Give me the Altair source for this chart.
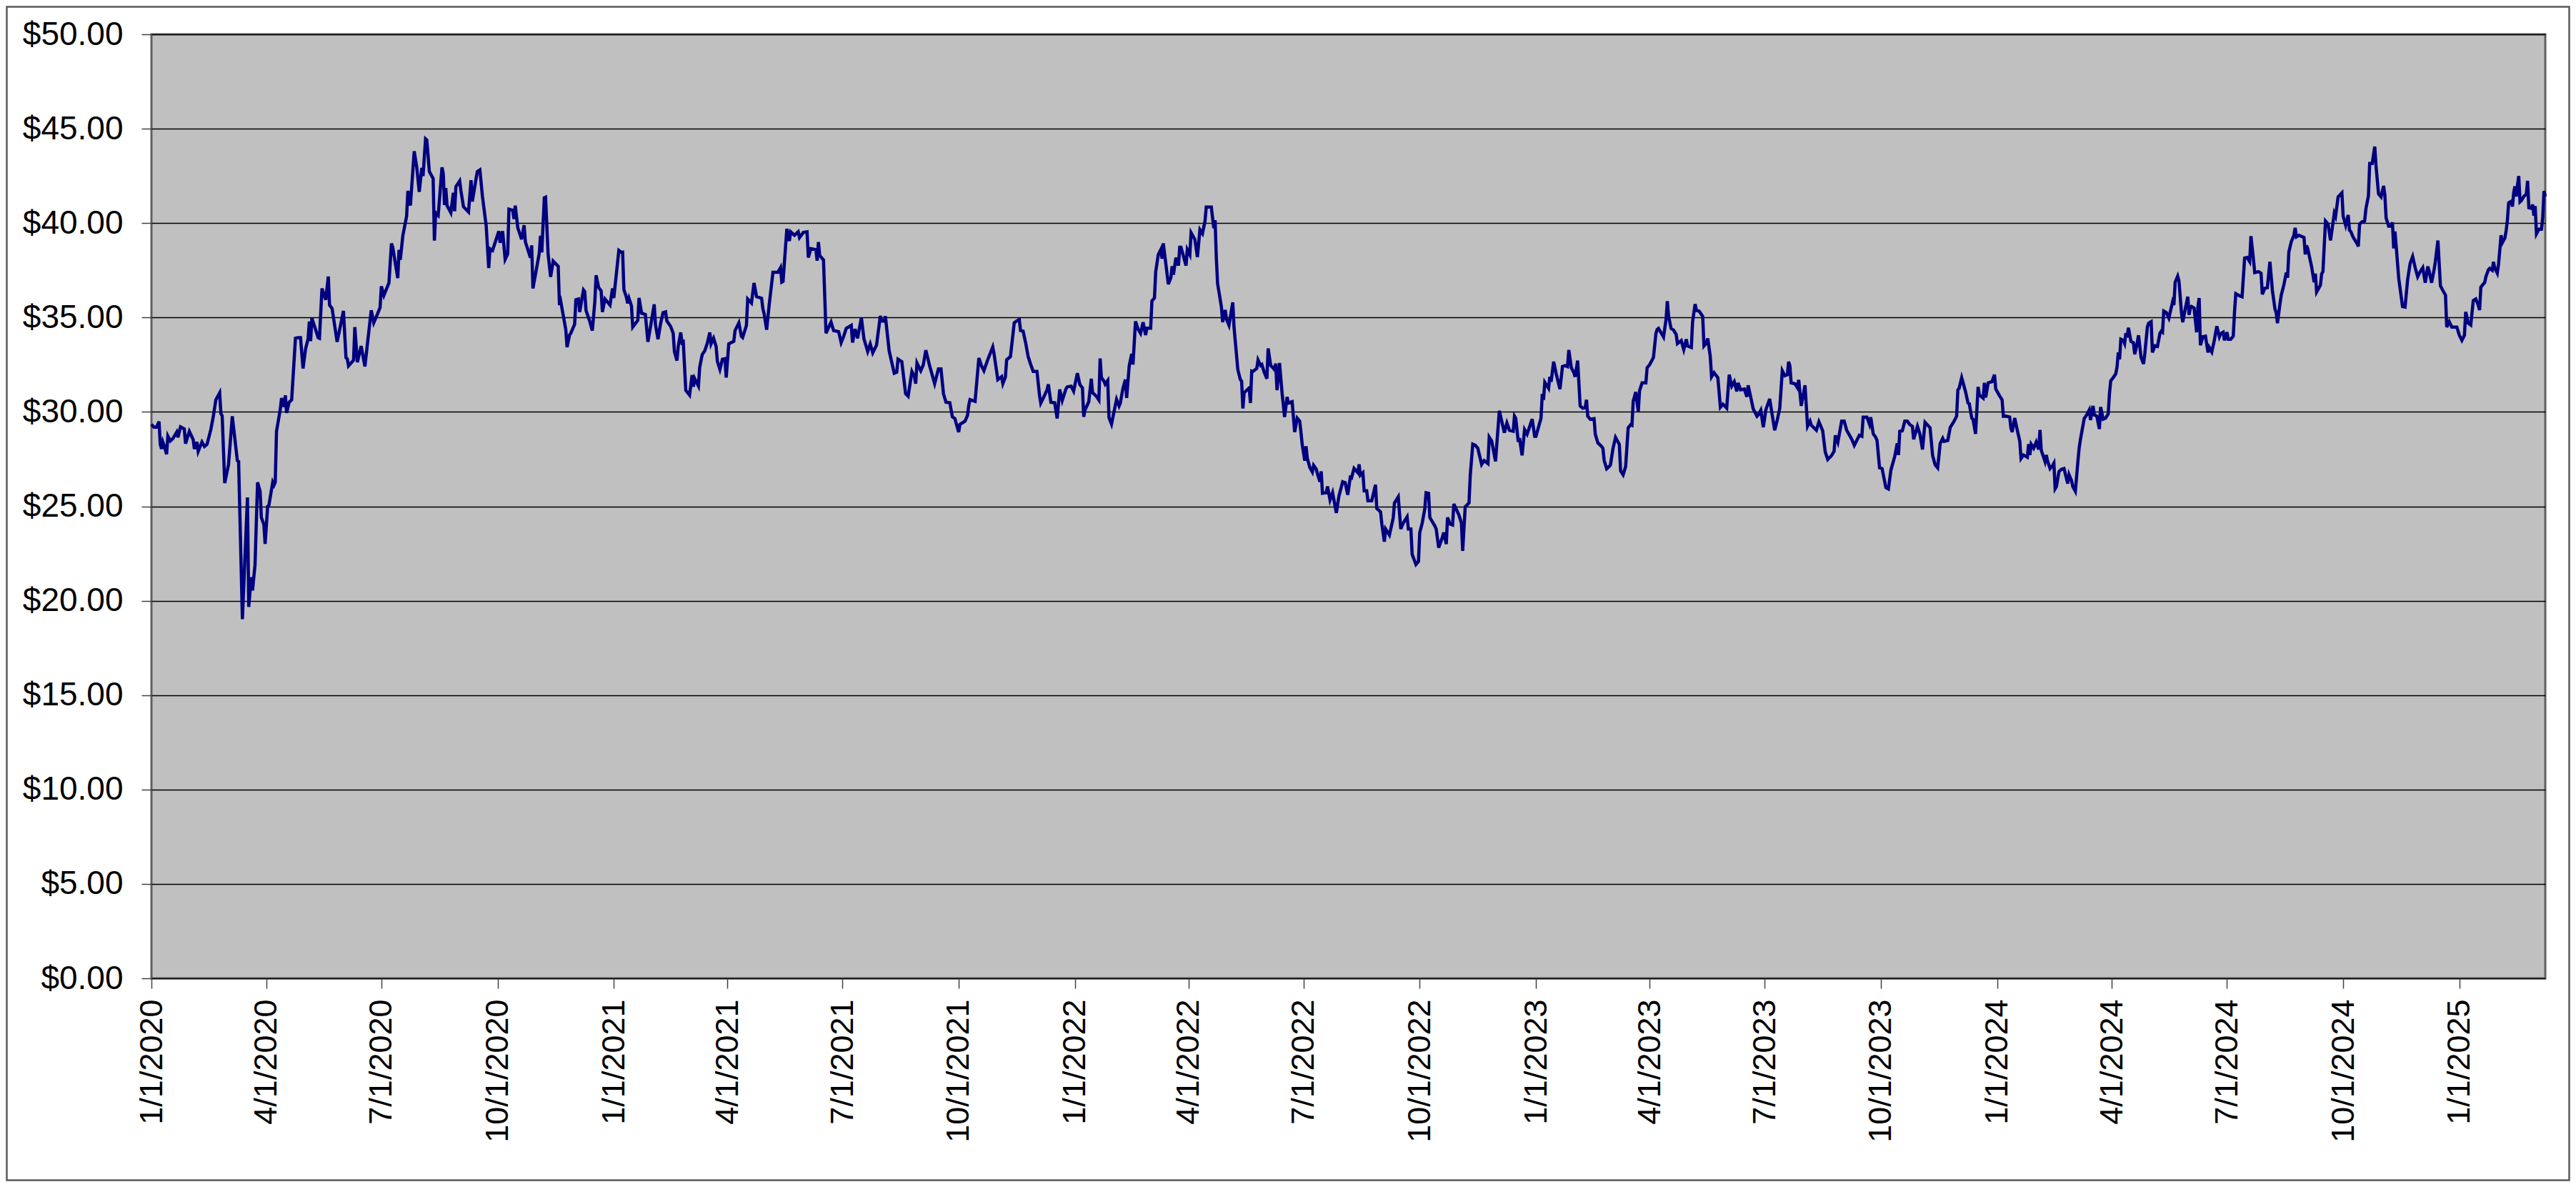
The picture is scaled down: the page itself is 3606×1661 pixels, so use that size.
import altair as alt
import pandas as pd

# (days since 1/1/2020, closing price), one list per year
seg_2020 = [(0,29.34),(2,29.19),(4,29.19),(6,29.49),(7,28.28),(8,28.04),(9,28.41),(10,28.22),(12,27.76),(13,28.72),
 (15,28.46),(17,28.59),(20,28.93),(21,28.65),(23,29.21),(26,29.10),(27,28.32),(30,28.97),(33,28.54),(34,28.04),
 (36,28.41),(37,27.91),(40,28.41),(42,28.17),(44,28.28),(47,29.06),(49,29.77),(51,30.64),(54,31.01),(55,29.90),
 (56,29.80),(58,26.23),(61,27.20),(64,29.77),(68,27.42),(69,27.39),(72,19.02),(76,25.47),(77,19.67),(79,21.25),
 (80,20.54),(82,21.90),(84,26.27),(86,25.80),(87,24.41),(89,24.04),(90,23.01),(92,25.00),(93,25.06),(96,26.27),
 (97,26.12),(98,26.27),(99,28.97),(102,30.14),(103,30.73),(105,30.27),(106,30.88),(107,29.95),(109,30.51),(111,30.64),
 (114,33.90),(116,33.93),(118,33.93),(120,32.30),(122,33.34),(124,33.86),(125,34.79),(126,33.75),(127,34.97),(129,34.55),
 (132,33.93),(133,33.90),(135,36.54),(138,35.94),(140,37.17),(141,35.66),(143,35.48),(147,33.71),(152,35.35),(154,32.87),
 (155,32.82),(156,32.44),(160,32.74),(161,34.49),(163,32.63),(166,33.49),(169,32.41),(171,33.62),(174,35.38),(176,34.73),
 (179,35.20),(181,35.53),(182,36.65),(184,36.17),(188,36.83),(190,38.92),(191,38.73),(195,37.09),(196,38.58),(197,38.06),
 (199,39.33),(202,40.37),(203,41.71),(205,40.93),(208,43.81),(210,42.97),(212,41.65),(214,42.92),(215,42.49),(217,44.46),
 (218,44.40),(220,42.73),(223,42.36),(224,39.07),(225,40.55),(227,40.41),(230,42.95),(231,42.64),(232,40.96),(233,41.86),
 (234,40.93),(237,40.55),(239,41.61),(240,40.63),(241,41.93),(244,42.23),(245,41.71),(247,40.87),(251,40.59),(253,42.27),
 (254,41.15),(257,42.36),(258,42.73),(260,42.82),(262,41.43),(265,39.85),(267,37.62),(268,38.64),(270,38.55),(272,38.96),
 (275,39.57),(276,38.96),(278,39.57),(280,38.08),(282,38.36),(283,40.74),(286,40.68),(287,40.22),(288,40.93),(290,39.75),
 (293,39.14),(295,39.89),(296,39.01),(300,38.17),(301,38.82),(302,36.54),(307,38.40),(308,39.33),(309,38.45),(311,41.34),
 (312,41.37),(314,38.36),(316,37.15),(318,37.99),(322,37.71),(323,35.66),(324,35.85),(328,34.36),(329,33.43),(331,34.08),
 (332,34.17),(335,34.64),(336,35.94),(338,35.98),(339,35.29),(342,36.46),(343,36.37),(344,35.38),(347,34.79),(349,34.31),
 (351,35.85),(352,37.24),(354,36.59),(356,36.41),(357,35.29),(359,35.98),(363,35.66),(365,36.54)]

seg_2021 = [(366,36.03),(370,38.55),(372,38.45),(373,38.46),(374,36.48),(376,36.07),(377,35.75),(378,36.02),(380,35.61),(381,34.49),
 (385,34.85),(386,36.04),(388,35.23),(391,35.16),(393,33.71),(395,34.49),(398,35.70),(399,34.62),(401,33.85),(403,34.66),
 (405,35.26),(407,35.30),(408,34.82),(411,34.53),(413,34.17),(414,33.20),(416,32.72),(417,33.47),(419,34.21),(420,33.67),
 (421,33.71),(423,31.14),(426,30.89),(428,31.95),(429,31.33),(430,31.77),(433,31.37),(434,32.36),(436,33.04),(438,33.23),
 (440,33.63),(442,34.21),(443,33.60),(445,33.90),(447,33.47),(448,32.68),(450,32.25),(452,32.79),(454,32.82),(455,31.82),
 (457,33.60),(461,33.74),(462,34.31),(465,34.72),(467,34.01),(468,33.94),(471,34.58),(472,35.98),(475,35.77),(477,36.83),
 (479,36.11),(483,36.02),(484,35.47),(485,35.20),(487,34.35),(489,35.66),(492,37.40),(496,37.40),(498,37.64),(499,36.88),
 (500,36.92),(503,39.70),(505,39.05),(506,39.54),(509,39.36),(512,39.54),(513,39.23),(516,39.50),(519,39.54),(520,38.18),
 (522,38.65),(526,38.59),(527,38.01),(528,39.00),(529,38.28),(532,38.05),(534,34.17),(538,34.76),(540,34.31),(544,34.25),
 (546,33.67),(548,34.01),(550,34.42),(554,34.58),(555,33.67),(557,34.39),(559,33.90),(562,34.99),(564,33.88),(567,33.20),
 (569,33.60),(571,33.13),(574,33.54),(577,35.09),(578,34.82),(580,34.80),(581,35.07),(584,33.23),(588,32.05),(590,32.11),
 (591,32.79),(594,32.66),(597,30.96),(599,30.83),(602,32.14),(604,31.87),(605,31.50),(606,32.59),(609,32.18),(611,32.49),
 (613,33.27),(616,32.45),(620,31.50),(623,32.28),(625,32.28),(627,30.96),(629,30.51),(632,30.49),(634,29.74),(636,29.65),
 (639,28.93),(640,29.34),(644,29.51),(646,29.81),(647,30.35),(648,30.65),(652,30.56),(655,32.86),(657,32.45),(659,32.18),
 (662,32.76),(666,33.44),(667,33.09),(670,31.71),(673,31.87),(674,31.50),(676,31.84),(677,32.76),(680,32.93),(683,34.72),
 (685,34.82),(687,34.89),(688,34.31),(690,34.28),(692,33.67),(694,32.93),(696,32.52),(698,32.14),(701,32.14),(703,30.89),
 (704,30.46),(706,30.73),(709,31.17),(710,31.46),(712,30.51),(715,30.49),(717,29.65),(719,31.19),(721,30.60),(724,31.23),
 (725,31.33),(728,31.36),(730,31.10)]

seg_2022 = [(733,32.05),(735,31.44),(737,31.27),(738,29.74),(739,30.10),(742,30.54),(744,31.76),(745,31.02),(748,30.83),(750,30.63),
 (751,32.83),(752,31.82),(754,31.63),(755,31.47),(757,31.66),(758,29.70),(760,29.35),(763,30.34),(764,30.66),(766,30.31),
 (767,30.47),(769,31.23),(771,31.71),(772,30.74),(774,32.43),(776,33.07),(777,32.51),(779,34.80),(781,34.39),(783,34.16),
 (785,34.75),(787,34.07),(788,34.43),(791,34.43),(792,35.88),(794,36.04),(795,37.43),(797,38.33),(799,38.60),(800,38.12),
 (801,38.93),(805,36.76),(807,37.11),(808,37.72),(809,37.27),(811,38.17),(813,37.75),(814,38.72),(815,38.72),(819,37.75),
 (820,38.60),(822,38.33),(823,39.49),(825,39.25),(826,39.13),(828,38.20),(830,39.65),(832,39.45),(834,40.10),(835,40.85),
 (839,40.85),(841,39.73),(842,40.16),(843,38.12),(844,36.79),(847,35.56),(848,34.75),(850,35.40),(851,34.92),(853,34.59),
 (856,35.80),(857,34.48),(860,32.24),(862,31.71),(863,31.63),(864,30.18),(865,31.02),(869,31.27),(870,30.47),(871,32.16),
 (872,32.14),(875,32.30),(876,32.75),(878,32.46),(879,32.51),(881,32.08),(883,31.76),(884,33.36),(886,32.46),(887,32.40),
 (889,32.24),(890,32.56),(891,31.15),(893,32.59),(895,31.02),(897,29.73),(899,30.79),(900,30.47),(903,30.54),(905,28.93),
 (907,29.67),(909,29.51),(910,28.90),(911,28.26),(913,27.42),(914,28.18),(915,27.54),(917,27.06),(919,26.82),(920,27.17),
 (922,26.98),(923,26.73),(925,26.30),(926,26.85),(927,25.69),(930,25.72),(931,26.05),(933,25.34),(935,25.72),(938,24.65),
 (940,25.53),(943,26.30),(945,26.25),(947,25.61),(949,26.53),(950,26.50),(952,27.01),(955,26.78),(956,27.22),(957,26.65),
 (959,26.78),(960,25.82),(962,25.82),(963,25.29),(966,25.29),(969,26.14),(970,24.89),(973,24.70),(974,24.06),(976,23.13),
 (977,23.80),(980,23.48),(983,24.38),(984,25.18),(987,25.50),(989,23.80),(991,24.12),(994,24.44),(995,23.80),(997,23.80),
 (998,22.45),(1001,21.92),(1003,22.08),(1004,23.61),(1006,24.12),(1008,24.86),(1009,25.72),(1011,25.69),(1012,24.41),(1016,23.96),
 (1017,23.80),(1019,22.81),(1022,23.37),(1023,23.61),(1025,23.00),(1026,24.41),(1028,24.06),(1030,24.01),(1031,25.13),(1035,24.54),
 (1037,24.12),(1038,22.64),(1040,24.97),(1043,25.18),(1044,26.65),(1046,28.29),(1048,28.23),(1050,28.07),(1053,27.22),(1055,27.42),
 (1058,27.26),(1059,28.66),(1061,28.45),(1064,27.38),(1067,30.06),(1071,28.90),(1073,29.41),(1075,29.03),(1078,28.98),(1079,29.78),
 (1080,29.67),(1082,28.42),(1083,28.61),(1085,27.70),(1087,29.06),(1089,28.82),(1093,29.62),(1095,28.71)]

seg_2023 = [(1096,28.71),(1100,29.67),(1101,30.95),(1102,30.64),(1103,31.57),(1106,31.25),(1107,31.86),(1108,31.60),(1110,32.66),(1112,32.02),
 (1115,31.21),(1117,32.40),(1119,32.45),(1121,32.40),(1122,33.28),(1124,32.34),(1126,32.08),(1127,31.86),(1129,32.72),(1131,30.32),
 (1133,30.20),(1135,30.25),(1136,30.64),(1137,29.77),(1139,29.61),(1142,29.64),(1143,28.81),(1145,28.36),(1148,28.17),(1149,28.07),
 (1150,27.43),(1152,26.99),(1154,27.11),(1155,27.20),(1157,28.07),(1159,28.65),(1162,28.28),(1163,26.88),(1165,26.67),(1167,27.11),
 (1169,29.16),(1171,29.32),(1172,29.29),(1173,30.57),(1175,31.05),(1177,30.00),(1178,31.12),(1180,31.54),(1183,31.54),(1184,32.34),
 (1186,32.50),(1189,32.88),(1191,34.17),(1192,34.37),(1193,34.42),(1197,33.97),(1199,34.90),(1200,35.87),(1201,35.06),(1203,34.42),
 (1205,34.33),(1207,34.10),(1208,33.62),(1211,33.78),(1213,33.30),(1215,33.85),(1216,33.49),(1219,33.41),(1220,34.78),(1222,35.71),
 (1223,35.38),(1225,35.34),(1226,35.26),(1228,35.06),(1229,33.49),(1231,33.65),(1232,33.89),(1234,32.93),(1235,31.86),(1237,32.08),
 (1240,31.81),(1242,30.25),(1244,30.41),(1247,30.20),(1249,31.97),(1251,31.37),(1253,31.60),(1255,31.09),(1256,31.54),(1258,31.17),
 (1261,31.21),(1263,30.80),(1264,31.41),(1268,30.16),(1271,29.77),(1272,29.84),(1274,30.09),(1276,29.19),(1278,30.12),(1281,30.69),
 (1285,29.03),(1287,29.56),(1289,30.20),(1291,32.18),(1293,31.92),(1295,31.97),(1296,32.66),(1297,32.45),(1298,31.54),(1301,31.49),
 (1303,31.28),(1304,31.70),(1306,30.32),(1309,31.41),(1311,29.24),(1313,29.51),(1314,29.29),(1318,29.03),(1320,29.48),(1323,29.00),
 (1325,27.88),(1327,27.48),(1330,27.69),(1332,27.91),(1333,28.76),(1335,28.39),(1338,29.51),(1340,29.51),(1342,29.03),(1346,28.55),
 (1348,28.23),(1352,28.76),(1354,28.71),(1355,29.72),(1358,29.72),(1360,29.35),(1361,29.72),(1363,28.84),(1365,28.65),(1366,28.49),
 (1368,27.04),(1370,27.00),(1373,25.99),(1375,25.92),(1377,26.92),(1380,27.64),(1382,28.33),(1383,27.72),(1384,28.97),(1386,29.00),
 (1388,29.51),(1390,29.51),(1392,29.32),(1394,29.24),(1395,28.55),(1398,29.24),(1400,28.81),(1402,28.01),(1404,29.45),(1408,29.16),
 (1410,27.69),(1412,27.20),(1414,27.04),(1416,28.33),(1418,28.60),(1419,28.44),(1422,28.49),(1424,29.19),(1425,29.29),(1427,29.51),
 (1429,29.77),(1430,31.17),(1431,31.25),(1433,31.81),(1436,31.09),(1438,30.48),(1439,30.44),(1441,29.67),(1442,29.61),(1444,28.84),
 (1446,31.33),(1447,30.89),(1450,30.73),(1451,31.54),(1452,30.77),(1454,31.54),(1457,31.60),(1459,31.97),(1460,31.21)]

seg_2024 = [(1463,30.85),(1465,30.64),(1466,29.77),(1468,29.78),(1471,29.73),(1472,29.14),(1473,28.93),(1475,29.68),(1477,29.04),(1479,28.45),
 (1480,27.53),(1482,27.72),(1485,27.60),(1486,28.29),(1487,27.72),(1488,28.29),(1490,28.08),(1492,28.40),(1494,28.01),(1495,29.04),
 (1496,27.97),(1499,27.37),(1500,27.72),(1501,27.40),(1503,27.00),(1505,27.16),(1506,27.28),(1507,25.93),(1508,26.04),(1510,26.84),
 (1512,26.96),(1514,27.00),(1515,26.73),(1517,26.20),(1518,26.68),(1520,26.36),(1521,26.04),(1523,25.80),(1525,27.37),(1526,28.08),
 (1527,28.53),(1530,29.65),(1532,29.84),(1534,30.10),(1535,29.57),(1537,30.32),(1538,29.84),(1540,29.78),(1542,29.09),(1543,30.26),
 (1545,29.62),(1547,29.68),(1549,29.89),(1550,30.97),(1551,31.65),(1553,31.82),(1555,32.02),(1556,32.38),(1557,33.15),(1558,32.78),
 (1559,33.85),(1561,33.79),(1562,33.63),(1563,34.17),(1564,33.95),(1565,34.46),(1567,33.74),(1569,33.66),(1570,33.05),(1572,33.66),
 (1573,34.06),(1575,32.89),(1577,32.54),(1578,33.10),(1580,34.49),(1581,34.70),(1583,34.78),(1584,33.15),(1586,33.50),(1588,33.47),
 (1590,34.17),(1591,34.27),(1592,34.22),(1593,35.34),(1595,35.26),(1597,34.97),(1600,35.83),(1601,35.66),(1602,36.87),(1604,37.19),
 (1605,36.95),(1607,35.26),(1608,34.75),(1610,35.46),(1612,36.10),(1613,35.14),(1614,35.50),(1615,35.58),(1617,35.50),(1619,34.22),
 (1620,35.55),(1621,36.03),(1622,33.53),(1624,33.98),(1626,34.01),(1628,33.15),(1629,33.42),(1631,33.18),(1633,33.79),(1635,34.54),
 (1637,33.98),(1638,34.14),(1640,34.22),(1641,33.79),(1643,34.22),(1644,33.85),(1646,33.85),(1648,34.01),(1649,35.30),(1650,36.26),
 (1653,36.15),(1655,36.10),(1657,38.15),(1659,38.18),(1661,37.96),(1662,39.31),(1664,38.07),(1665,37.38),(1668,37.43),(1670,37.35),
 (1671,36.23),(1673,36.55),(1675,36.58),(1677,37.96),(1679,36.42),(1681,35.46),(1682,35.26),(1683,34.70),(1685,35.74),(1686,36.19),
 (1688,36.71),(1690,37.38),(1691,37.11),(1692,38.47),(1694,39.03),(1696,39.35),(1697,39.75),(1698,39.27),(1700,39.35),(1704,39.24),
 (1705,38.34),(1706,38.82),(1707,38.63),(1710,37.70),(1712,36.87),(1713,37.32),(1714,36.35),(1717,36.71),(1718,37.32),(1719,37.43),
 (1721,40.11),(1723,39.95),(1725,39.08),(1728,40.52),(1729,40.36),(1731,41.39),(1734,41.60),(1735,40.36),(1737,39.88),(1739,40.43),
 (1740,39.63),(1741,39.56),(1743,39.24),(1746,38.92),(1747,38.76),(1748,39.95),(1750,40.07),(1752,40.11),(1753,40.75),(1755,41.44),
 (1756,43.16),(1758,43.16),(1760,44.05),(1761,43.04),(1763,41.55),(1765,41.39),(1767,41.97),(1768,41.49),(1769,40.27),(1771,39.84),
 (1773,39.84),(1774,40.04),(1775,38.66),(1776,39.56),(1777,38.76),(1779,37.06),(1782,35.58),(1784,35.55),(1786,36.99),(1788,37.86),
 (1790,38.23),(1792,37.64),(1794,37.16),(1796,37.43),(1798,37.64),(1800,36.84),(1802,37.70),(1803,37.48),(1805,36.84),(1807,37.54),
 (1808,37.96),(1810,39.08),(1812,36.68),(1814,36.42),(1816,36.19),(1817,34.49),(1819,34.78),(1821,34.49),(1825,34.49)]

seg_2025 = [(1827,34.06),(1829,33.79),(1831,34.06),(1832,35.30),(1834,34.70),(1836,34.60),(1838,35.90),(1840,35.98),(1842,35.64),(1843,35.39),
 (1844,36.61),(1846,36.78),(1847,36.84),(1848,37.16),(1850,37.53),(1851,37.60),(1853,37.50),(1854,37.95),(1855,37.62),(1857,37.35),
 (1858,37.82),(1860,39.36),(1861,38.96),(1863,39.21),(1864,39.59),(1865,40.15),(1866,41.07),(1868,41.15),(1869,40.88),(1870,41.61),
 (1871,41.95),(1872,41.41),(1873,42.01),(1874,42.49),(1875,41.13),(1876,41.19),(1878,41.41),(1880,41.53),(1881,42.24),(1882,40.81),
 (1884,40.78),(1885,40.98),(1886,40.40),(1887,40.90),(1888,39.43),(1890,39.68),(1892,39.68),(1893,40.31),(1894,41.70),(1895,41.41)]

y_ticks = [0, 5, 10, 15, 20, 25, 30, 35, 40, 45, 50]
x_tick_dates = pd.date_range("2020-01-01", "2025-01-01", freq="QS")
x_domain = ("2020-01-01", "2025-03-10")

rows = seg_2020 + seg_2021 + seg_2022 + seg_2023 + seg_2024 + seg_2025
base = pd.Timestamp("2020-01-01")
df = pd.DataFrame({
    "date": [(base + pd.Timedelta(days=d)).strftime("%Y-%m-%d") for d, _ in rows],
    "price": [p for _, p in rows],
})

FONT = "Liberation Sans"

def dt(s):
    t = pd.Timestamp(s)
    return alt.DateTime(year=t.year, month=t.month, date=t.day, utc=True)

W, H = 3351, 1321
PAD = {"left": 204, "top": 40, "right": 35, "bottom": 284}

line = alt.Chart(df).mark_line(color="#000080", strokeWidth=4.5).encode(
    x=alt.X("date:T",
            scale=alt.Scale(type="utc", domain=[dt(x_domain[0]), dt(x_domain[1])], nice=False),
            axis=alt.Axis(values=[dt(t) for t in x_tick_dates],
                          labelExpr="utcFormat(datum.value, '%-m/%-d/%Y')",
                          labelAngle=-90, labelFont=FONT, labelFontSize=45, labelColor="#000000",
                          labelPadding=15, labelLimit=0, labelOverlap=False, labelFlush=False, labelBound=False,
                          tickSize=14, tickColor="#404040", tickWidth=1.5,
                          grid=False, domain=False, title=None)),
    y=alt.Y("price:Q",
            scale=alt.Scale(domain=[0, 50], nice=False, zero=True),
            axis=alt.Axis(values=y_ticks, format="$.2f",
                          labelFont=FONT, labelFontSize=46, labelColor="#000000",
                          labelPadding=26, labelLimit=0, labelOverlap=False, labelFlush=False, labelBound=False,
                          tickSize=14, tickColor="#404040", tickWidth=1.5,
                          grid=True, gridColor="#000000", gridWidth=1.5, gridOpacity=1,
                          domain=False, title=None)),
)

frame = alt.Chart(pd.DataFrame({"k": [0]})).mark_rect(
    filled=False, stroke="#595959", strokeWidth=2.5, fill=None
).encode(
    x=alt.value(-PAD["left"] + 1.5), x2=alt.value(W + PAD["right"] - 1.5),
    y=alt.value(-PAD["top"] + 1.5), y2=alt.value(H + PAD["bottom"] - 1.5),
)

chart = alt.layer(line, frame).properties(
    width=W, height=H,
    autosize=alt.AutoSizeParams(type="none"),
    padding=PAD,
    background="#FFFFFF",
).configure_view(fill="#C0C0C0", stroke="#606060", strokeWidth=3)

chart.save("out.html", embed_options={"renderer": "svg", "actions": False})
